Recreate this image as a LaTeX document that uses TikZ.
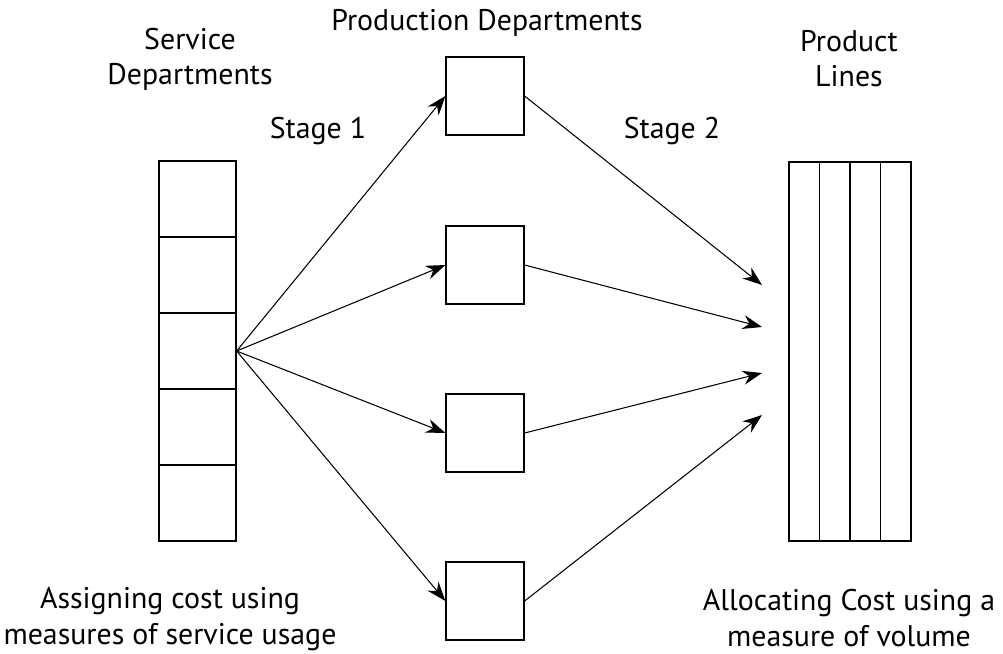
\documentclass[tikz,border=0pt]{standalone}
\usepackage{fontspec}
\setmainfont{PT Sans}
\usetikzlibrary{arrows.meta}

\tikzset{
  svcbox/.style={draw, line width=0.7pt, inner sep=0pt, minimum width=1.54cm, minimum height=1.52cm},
  prodbox/.style={draw, line width=0.7pt, inner sep=0pt, minimum size=1.56cm},
  linebox/.style={draw, line width=0.7pt, inner sep=0pt, minimum width=0.61cm, minimum height=7.58cm},
  flow/.style={line width=0.6pt, -{Stealth[length=11pt, width=8pt]}},
  label/.style={align=center, inner sep=1pt, font=\fontsize{17pt}{20pt}\selectfont}
}

\begin{document}
\begin{tikzpicture}[x=0.02cm, y=-0.02cm]
\useasboundingbox (0,0) rectangle (1003,653);
% service departments
\foreach \i in {1,...,5}
  \node[svcbox] (svc\i) at (197.5, {199+76*(\i-1)}) {};
% production departments
\foreach \i/\y in {1/96, 2/265, 3/433, 4/601}
  \node[prodbox] (prod\i) at (485, \y) {};
% product lines
\foreach \i in {1,...,4}
  \node[linebox] (line\i) at ({789+30.5*(\i-0.5)}, 351.5) {};
\coordinate (in1) at (762, 285);
\coordinate (in2) at (762, 327);
\coordinate (in3) at (762, 373);
\coordinate (in4) at (762, 415);
% stage 1 and stage 2
\foreach \i in {1,...,4} {
  \draw[flow] (svc3.east) -- (prod\i.west);
  \draw[flow] (prod\i.east) -- (in\i);
}
\node[label] (svctitle) at (190, 59) {Service\\Departments};
\node[label] (prodtitle) at (487, 23) {Production Departments};
\node[label] (linetitle) at (849, 59) {Product\\Lines};
\node[label] (stage1) at (318, 131) {Stage 1};
\node[label] (stage2) at (672, 131) {Stage 2};
\node[label] (assign) at (170, 619) {Assigning cost using\\measures of service usage};
\node[label] (alloc) at (849, 618) {Allocating Cost using a\\measure of volume};
\end{tikzpicture}
\end{document}
